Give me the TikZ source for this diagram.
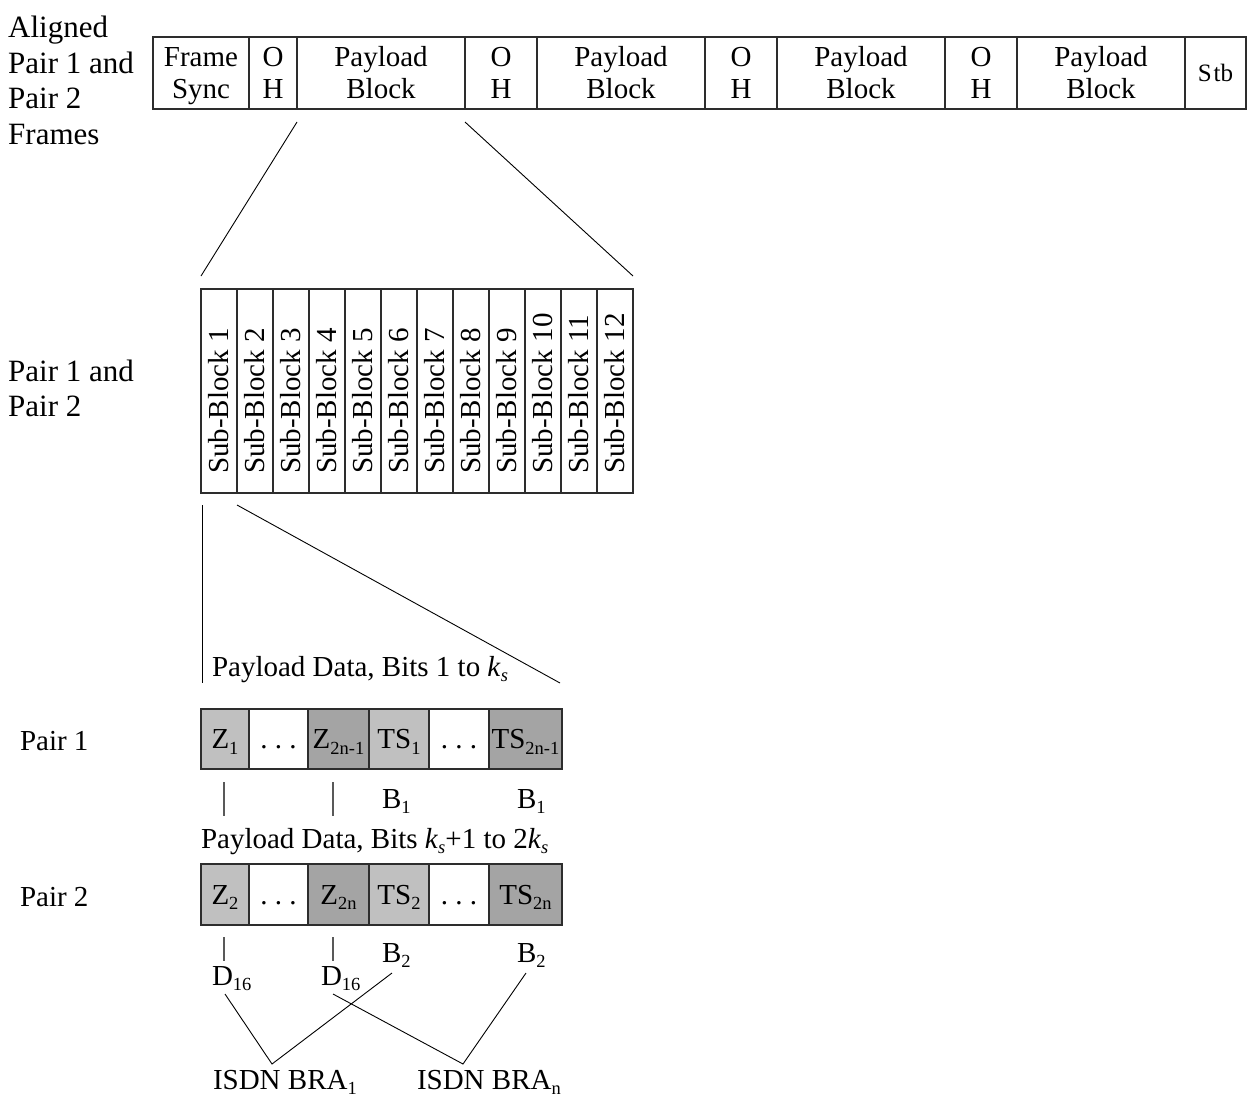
\documentclass[tikz,border=0pt]{standalone}
\usepackage{fontspec}
\setmainfont{Liberation Serif}
\usetikzlibrary{calc}
\definecolor{cellL}{RGB}{192,192,192}
\definecolor{cellD}{RGB}{164,164,164}
\definecolor{edge}{RGB}{45,45,45}
\newcommand{\twol}[2]{\rule{0pt}{26pt}#1\\#2\rule[-7pt]{0pt}{7pt}}
\newcommand{\lowsub}[1]{\raisebox{-5.5pt}{\fontsize{18.5}{18.5}\selectfont #1}}
\begin{document}
\begin{tikzpicture}[x=1pt,y=-1pt,
  txt/.style={font=\fontsize{29}{32}\selectfont, inner sep=0pt, outer sep=0pt},
  lbl/.style={font=\fontsize{31}{35.5}\selectfont, inner sep=0pt, align=left, anchor=north west},
  fcell/.style={draw=edge, line width=1.2pt, rectangle, inner sep=0pt, outer sep=0pt, anchor=north west, minimum height=72pt, align=center, font=\fontsize{29}{32}\selectfont},
  sbcell/.style={draw=edge, line width=1.2pt, rectangle, inner sep=0pt, outer sep=0pt, anchor=north west, minimum width=36pt, minimum height=204pt},
  sbtext/.style={rotate=90, anchor=west, inner sep=0pt, font=\fontsize{29}{32}\selectfont},
  pcell/.style={draw=edge, line width=1.2pt, rectangle, inner sep=0pt, outer sep=0pt, anchor=north west, font=\fontsize{29}{32}\selectfont, text height=19.2pt, text depth=0pt},
  conn/.style={line width=0.9pt, black},
  tick/.style={line width=1.2pt, black!65}
]
\useasboundingbox (0,0) rectangle (1247,1100);

% left labels
\node[lbl] (lblA) at (8,16) {Aligned\\Pair 1 and\\Pair 2\\Frames};
\node[lbl] (lblB) at (8,359.5) {Pair 1 and\\Pair 2};
\node[txt, anchor=base west] (lblP1) at (20,750.5) {Pair 1};
\node[txt, anchor=base west] (lblP2) at (20,906) {Pair 2};

% top frame
\node[fcell, minimum width=96pt] (fs) at (153,37) {\twol{Frame}{Sync}};
\node[fcell, minimum width=48pt] (oh1) at (249,37) {\twol{O}{H}};
\node[fcell, minimum width=168pt] (pb1) at (297,37) {\twol{Payload}{Block}};
\node[fcell, minimum width=72pt] (oh2) at (465,37) {\twol{O}{H}};
\node[fcell, minimum width=168pt] (pb2) at (537,37) {\twol{Payload}{Block}};
\node[fcell, minimum width=72pt] (oh3) at (705,37) {\twol{O}{H}};
\node[fcell, minimum width=168pt] (pb3) at (777,37) {\twol{Payload}{Block}};
\node[fcell, minimum width=72pt] (oh4) at (945,37) {\twol{O}{H}};
\node[fcell, minimum width=168pt] (pb4) at (1017,37) {\twol{Payload}{Block}};
\node[fcell, minimum width=61pt, font=\fontsize{25}{28}\selectfont, text height=16.5pt, text depth=0pt] (stb) at (1185,37) {S\kern2pt tb};

% sub-blocks
\foreach \i in {1,...,12}{
  \node[sbcell] (sb\i) at ({201+36*(\i-1)},289) {};
  \node[sbtext] (sbt\i) at ($(sb\i.south)+(0,-19)$) {Sub-Block \i};
}

% connectors frame -> sub-blocks
\coordinate (a1) at ($(pb1.south west)+(0,13)$);
\coordinate (a2) at ($(sb1.north west)+(0,-13)$);
\coordinate (a3) at ($(pb1.south east)+(0,13)$);
\coordinate (a4) at ($(sb12.north east)+(0,-13)$);
\draw[conn] (a1) -- (a2);
\draw[conn] (a3) -- (a4);

% connectors sub-blocks -> payload data
\coordinate (b1) at ($(sb1.south west)+(1,12)$);
\coordinate (b2) at (202,683);
\coordinate (b3) at ($(sb2.south west)+(0,12)$);
\coordinate (b4) at (560,683);
\draw[conn] (b1) -- (b2);
\draw[conn] (b3) -- (b4);

\node[txt, anchor=base west] (pd1) at (212,676) {Payload Data, Bits 1 to \textit{k}\lowsub{\textit{s}}};

% pair 1 row
\node[pcell, fill=cellL, minimum width=48pt, minimum height=60pt] (z1) at (201,709) {Z\lowsub{1}};
\node[pcell, fill=white, minimum width=59pt, minimum height=60pt] (da1) at (249,709) {.\ .\ .};
\node[pcell, fill=cellD, minimum width=61pt, minimum height=60pt] (z2n1) at (308,709) {Z\lowsub{2n-1}};
\node[pcell, fill=cellL, minimum width=60pt, minimum height=60pt] (ts1) at (369,709) {TS\lowsub{1}};
\node[pcell, fill=white, minimum width=60pt, minimum height=60pt] (db1) at (429,709) {.\ .\ .};
\node[pcell, fill=cellD, minimum width=73pt, minimum height=60pt] (ts2n1) at (489,709) {TS\lowsub{2n-1}};

\coordinate (t1a) at (224,782); \coordinate (t1b) at (224,816);
\coordinate (t2a) at (333,782); \coordinate (t2b) at (333,816);
\draw[tick] (t1a) -- (t1b);
\draw[tick] (t2a) -- (t2b);
\node[txt, anchor=base west] (b1a) at (382,808) {B\lowsub{1}};
\node[txt, anchor=base west] (b1b) at (517,808) {B\lowsub{1}};

\node[txt, anchor=base west] (pd2) at (201,848) {Payload Data, Bits \textit{k}\lowsub{\textit{s}}+1 to 2\textit{k}\lowsub{\textit{s}}};

% pair 2 row
\node[pcell, fill=cellL, minimum width=48pt, minimum height=61pt] (z2) at (201,864) {Z\lowsub{2}};
\node[pcell, fill=white, minimum width=59pt, minimum height=61pt] (da2) at (249,864) {.\ .\ .};
\node[pcell, fill=cellD, minimum width=61pt, minimum height=61pt] (z2n) at (308,864) {Z\lowsub{2n}};
\node[pcell, fill=cellL, minimum width=60pt, minimum height=61pt] (ts2) at (369,864) {TS\lowsub{2}};
\node[pcell, fill=white, minimum width=60pt, minimum height=61pt] (db2) at (429,864) {.\ .\ .};
\node[pcell, fill=cellD, minimum width=73pt, minimum height=61pt] (ts2n) at (489,864) {TS\lowsub{2n}};

\coordinate (t3a) at (224,937); \coordinate (t3b) at (224,961);
\coordinate (t4a) at (333,937); \coordinate (t4b) at (333,961);
\draw[tick] (t3a) -- (t3b);
\draw[tick] (t4a) -- (t4b);
\node[txt, anchor=base west] (b2a) at (382,962) {B\lowsub{2}};
\node[txt, anchor=base west] (b2b) at (517,962) {B\lowsub{2}};
\node[txt, anchor=base west] (d16a) at (212,985) {D\lowsub{16}};
\node[txt, anchor=base west] (d16b) at (321,985) {D\lowsub{16}};

\node[txt, anchor=base west] (isdn1) at (213,1089) {ISDN BRA\lowsub{1}};
\node[txt, anchor=base west] (isdnn) at (417,1089) {ISDN BRA\lowsub{n}};

% ISDN connectors
\coordinate (e1) at (225,994);
\coordinate (e2) at (272,1064);
\coordinate (e3) at (392,973);
\coordinate (e4) at (333,994);
\coordinate (e5) at (463,1064);
\coordinate (e6) at (526,973);
\draw[conn] (e1) -- (e2) -- (e3);
\draw[conn] (e4) -- (e5) -- (e6);
\end{tikzpicture}
\end{document}
